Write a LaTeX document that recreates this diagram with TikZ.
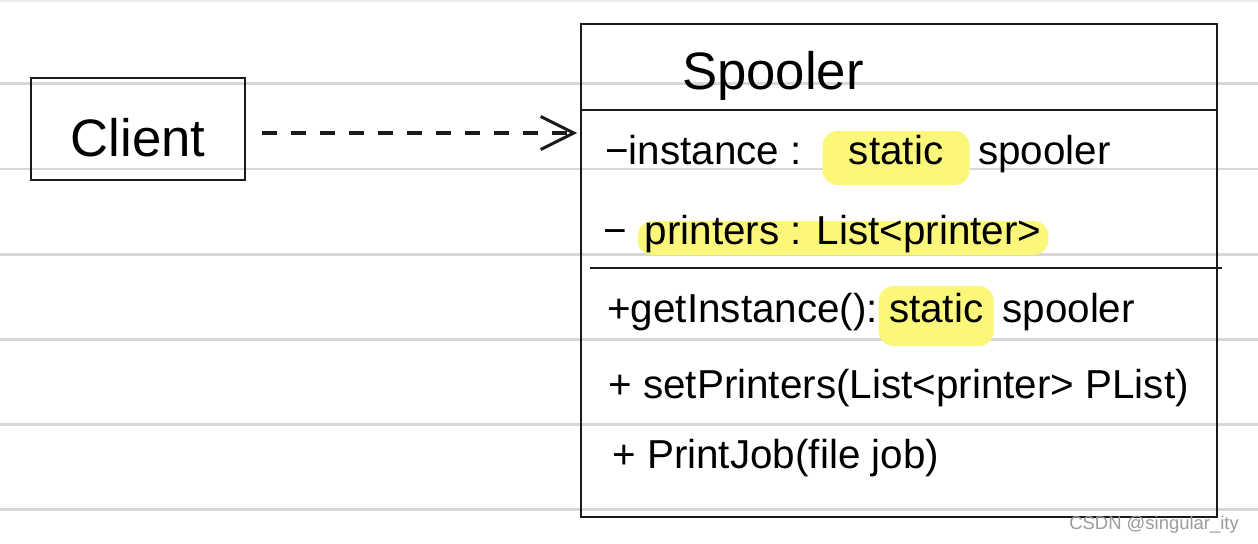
\documentclass[tikz,border=0pt]{standalone}
\usepackage{fontspec}
\setmainfont{Liberation Sans}
\usetikzlibrary{positioning,arrows.meta}
\definecolor{cink}{HTML}{1A1A1A}
\definecolor{crule}{HTML}{D8D8D8}
\definecolor{chigh}{HTML}{FAF77A}
\definecolor{cmark}{HTML}{9C9C9C}

\begin{document}
\begin{tikzpicture}[x=0.02cm, y=-0.02cm,
  ruled/.style={crule, line width=0.06cm},
  cls/.style={draw=cink, line width=0.04cm, inner sep=0pt},
  big/.style={font=\fontsize{30}{34}\selectfont},
  attr/.style={font=\fontsize{23}{27}\selectfont, inner sep=0pt,
    text height=2ex, text depth=0.6ex, anchor=west},
  hl/.style={attr, fill=chigh, inner xsep=0.14cm, rounded corners=0.3cm},
  dep/.style={cink, line width=0.09cm, dash pattern=on 0.3cm off 0.28cm,
    -{Straight Barb[length=0.66cm, width=0.66cm, line width=0.06cm]}}]

\useasboundingbox (0,0) rectangle (1258,544);
\fill[white] (0,0) rectangle (1258,544);

% paper lines
\draw[ruled, crule!50] (0,1) -- (1258,1);
\foreach \yy in {84,169,254,339,424,509}
  \draw[ruled] (0,\yy) -- (1258,\yy);

% client
\node[cls, big, minimum width=4.28cm, minimum height=2.04cm,
  text height=1.1cm, text depth=0cm] (client) at (138,129) {Client};

% spooler class
\node[cls, minimum width=12.72cm, minimum height=9.86cm] (spooler)
  at (899,270.5) {};
\node[big] (title) at (773,76) {Spooler};
\draw[cls] (spooler.west |- 0,110) -- (spooler.east |- 0,110);
\draw[cls] (590,268) -- (1222,268);

% attributes
\node[attr] (inst) at (605,158) {−instance :};
\node[hl, minimum height=1.08cm, minimum width=2.94cm, right=0.4cm of inst]
  (st1) {static};
\node[attr, right=0.16cm of st1] (sp1) {spooler};

\node[attr] (dash2) at (603,238) {−};
\node[hl, minimum height=0.68cm, right=0.2cm of dash2] (plist)
  {printers : List<printer>};

% operations
\node[attr] (getinst) at (607,316) {+getInstance():};
\node[hl, minimum height=1.2cm, minimum width=2.3cm, right=0cm of getinst]
  (st2) {static};
\node[attr, right=0.16cm of st2] (sp2) {spooler};

\node[attr] (setp) at (608,392) {+ setPrinters(List<printer> PList)};
\node[attr] (pjob) at (612,462) {+ PrintJob(file job)};

\draw[dep, shorten <=0.32cm, shorten >=0.06cm]
  ([yshift=-0.08cm]client.east) -- ([yshift=-0.08cm]client.east -| spooler.west);

\node[font=\fontsize{10.5}{12}\selectfont, text=cmark, anchor=east] (mark)
  at (1245,525) {CSDN @singular\_ity};
\end{tikzpicture}
\end{document}
